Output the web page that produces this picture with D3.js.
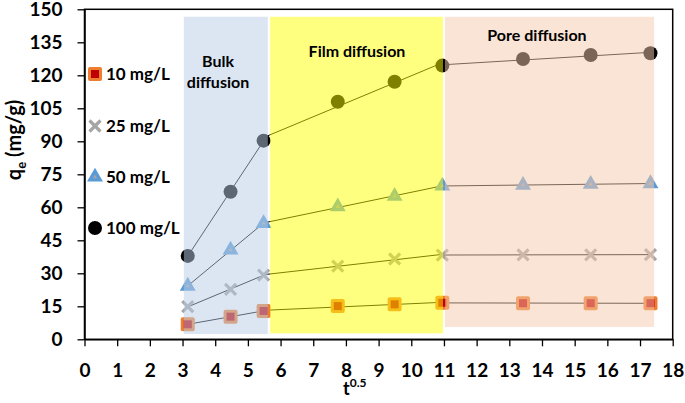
<!DOCTYPE html>
<html>
<head>
<meta charset="utf-8">
<script src="https://cdn.jsdelivr.net/npm/d3@7"></script>
<style>
  html, body { margin: 0; padding: 0; background: #fff; }
  svg text { font-family: Lato, 'Open Sans', sans-serif; font-weight: bold; fill: #000; }
</style>
</head>
<body>
<div id="root"></div>
<script>
'use strict';

// t^0.5 for each sampling time
const tSqrt   = [3.16, 4.47, 5.48, 7.75, 9.49, 10.95, 13.42, 15.49, 17.32];

const q10     = [6.8, 10.3, 12.9, 15.1, 15.9, 16.6, 16.4, 16.4, 16.4];
const q25     = [14.8, 22.7, 29.2, 33.3, 36.5, 38.3, 38.4, 38.4, 38.5];
const q50     = [24.2, 40.6, 52.7, 60.3, 65.1, 69.7, 70.1, 70.5, 70.8];
const q100    = [37.9, 67.1, 90.3, 108, 117.1, 124.4, 127.4, 129.2, 130];

const seriesNames = ['10 mg/L', '25 mg/L', '50 mg/L', '100 mg/L'];

const xTicks = d3.range(0, 19, 1);
const yTicks = d3.range(0, 151, 15);

// stage ranges (index of first and last point of each fitted segment)
const stageNames  = ['Bulk\ndiffusion', 'Film diffusion', 'Pore diffusion'];
const stagePoints = [[0, 2], [2, 5], [5, 8]];
// shaded boxes in data units [x0, x1, yLow, yHigh]
const stageBoxes  = [[3.04, 5.61, 2.4, 146.6], [5.68, 10.97, 2.7, 146.6], [11.03, 17.43, 5.6, 146.6]];

const Root = document.querySelector('#root');

function fit(xs, ys) {
  const mx = d3.mean(xs), my = d3.mean(ys);
  let sxy = 0, sxx = 0;
  xs.forEach((x, i) => { sxy += (x - mx) * (ys[i] - my); sxx += (x - mx) * (x - mx); });
  const b = sxy / sxx;
  return (x) => my + b * (x - mx);
}

function drawChart() {
  const w = 685,
        h = 403,
        left = 84.5, right = 672.7, top = 9.3, bottom = 339.3,

        svg = d3.select(Root)
                .append('svg')
                .attr('width', w)
                .attr('height', h),

        xScale = d3.scaleLinear().domain([0, 18]).range([left, right]),
        yScale = d3.scaleLinear().domain([0, 150]).range([bottom, top]),

        stageFill = ['rgb(186,206,229)', 'rgb(255,255,0)', 'rgb(246,202,172)'],
        series = [q10, q25, q50, q100];

  // fitted lines per stage
  const lines = svg.append('g');
  series.forEach((qs) => {
    stagePoints.forEach(([a, b]) => {
      const xs = tSqrt.slice(a, b + 1), ys = qs.slice(a, b + 1),
            f = fit(xs, ys);
      lines.append('line')
           .attr('x1', xScale(xs[0]))
           .attr('y1', yScale(f(xs[0])))
           .attr('x2', xScale(xs[xs.length - 1]))
           .attr('y2', yScale(f(xs[xs.length - 1])))
           .attr('stroke', '#000')
           .attr('stroke-width', 1);
    });
  });

  // markers
  const marks = {
    sq: (g) => {
      g.append('rect').attr('x', -7).attr('y', -7).attr('width', 14).attr('height', 14)
       .attr('rx', 2).attr('fill', '#ED7D31');
      g.append('rect').attr('x', -4).attr('y', -4).attr('width', 8).attr('height', 8)
       .attr('fill', '#C00000');
    },
    x: (g) => {
      g.append('path').attr('d', 'M-5.5,-5.5L5.5,5.5M-5.5,5.5L5.5,-5.5')
       .attr('stroke', '#A5A5A5').attr('stroke-width', 3.2).attr('fill', 'none');
    },
    tri: (g) => {
      g.append('path').attr('d', d3.symbol(d3.symbolTriangle, 110)()).attr('fill', '#5B9BD5');
      g.append('path').attr('d', d3.symbol(d3.symbolTriangle, 8)()).attr('fill', '#A5A5A5');
    },
    circ: (g) => {
      g.append('circle').attr('r', 7).attr('fill', '#000');
    }
  };
  const markKeys = ['sq', 'x', 'tri', 'circ'];

  series.forEach((qs, k) => {
    svg.append('g')
       .selectAll('g')
       .data(qs)
       .enter()
       .append('g')
       .attr('transform', (d, i) => 'translate(' + xScale(tSqrt[i]) + ',' + yScale(d) + ')')
       .each(function() { marks[markKeys[k]](d3.select(this)); });
  });

  // stage shading on top, semi transparent
  svg.append('g')
     .selectAll('rect')
     .data(stageBoxes)
     .enter()
     .append('rect')
     .attr('x', (d) => xScale(d[0]))
     .attr('width', (d) => xScale(d[1]) - xScale(d[0]))
     .attr('y', (d) => yScale(d[3]))
     .attr('height', (d) => yScale(d[2]) - yScale(d[3]))
     .attr('fill', (d, i) => stageFill[i])
     .attr('opacity', 0.5);

  // stage labels
  const labelPos = [[218, 62], [357, 52], [537, 36]];
  stageNames.forEach((name, i) => {
    const t = svg.append('text')
                 .attr('x', labelPos[i][0])
                 .attr('y', labelPos[i][1] + 5)
                 .attr('text-anchor', 'middle')
                 .attr('font-size', 16);
    name.split('\n').forEach((s, j) => {
      t.append('tspan').attr('x', labelPos[i][0]).attr('dy', j ? 20.5 : 0).text(s);
    });
  });

  // frame
  svg.append('rect')
     .attr('x', left).attr('y', top)
     .attr('width', right - left).attr('height', bottom - top)
     .attr('fill', 'none').attr('stroke', '#000').attr('stroke-width', 1.5);

  const xAxis = d3.axisBottom(xScale).tickValues(xTicks).tickSize(7).tickPadding(17).tickSizeOuter(0),
        yAxis = d3.axisLeft(yScale).tickValues(yTicks).tickSize(7).tickPadding(15).tickSizeOuter(0);

  svg.append('g')
     .attr('transform', 'translate(0, ' + bottom + ')')
     .call(xAxis)
     .call((g) => g.select('.domain').attr('stroke-width', 1.5))
     .call((g) => g.selectAll('line').attr('stroke-width', 1.3))
     .call((g) => g.selectAll('text').attr('font-size', 19).attr('font-family', 'Lato, sans-serif'));

  svg.append('g')
     .attr('transform', 'translate(' + left + ', 0)')
     .call(yAxis)
     .call((g) => g.select('.domain').attr('stroke-width', 1.5))
     .call((g) => g.selectAll('line').attr('stroke-width', 1.3))
     .call((g) => g.selectAll('text').attr('font-size', 19).attr('font-family', 'Lato, sans-serif'));

  // legend
  const legY = [74, 126, 177, 228];
  seriesNames.forEach((name, k) => {
    const g = svg.append('g').attr('transform', 'translate(95,' + legY[k] + ')');
    marks[markKeys[k]](g);
    g.append('text').attr('x', 11).attr('y', 6).attr('font-size', 17).text(name);
  });

  // axis titles
  const yt = svg.append('text')
                .attr('transform', 'translate(21,140) rotate(-90)')
                .attr('text-anchor', 'middle')
                .attr('font-size', 20);
  yt.append('tspan').text('q');
  yt.append('tspan').attr('font-size', 13).attr('dy', 5).text('e');
  yt.append('tspan').attr('dy', -5).text(' (mg/g)');

  const xt = svg.append('text')
                .attr('x', 343)
                .attr('y', 395)
                .attr('font-size', 18);
  xt.append('tspan').text('t');
  xt.append('tspan').attr('font-size', 12).attr('dy', -8).text('0.5');
}

drawChart();
</script>
</body>
</html>
